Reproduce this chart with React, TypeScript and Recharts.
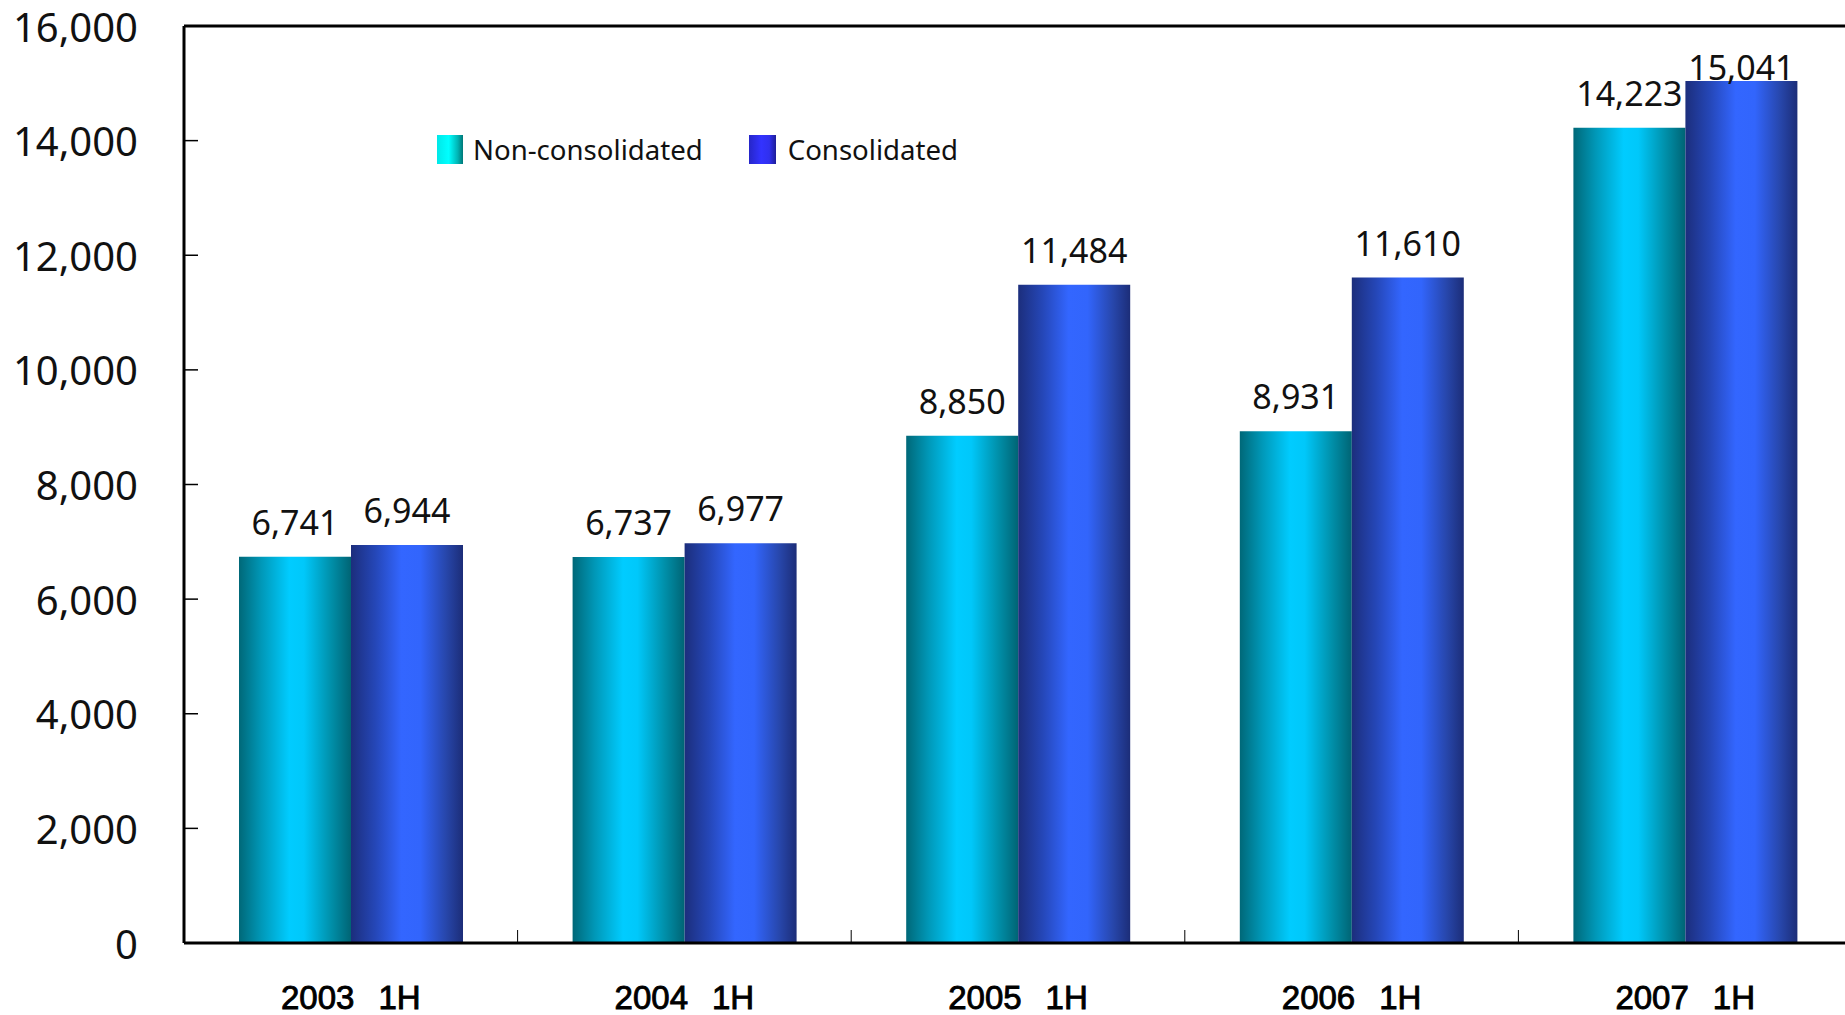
import React from 'react'
import { BarChart, Bar, XAxis, YAxis, ReferenceLine, LabelList } from 'recharts'

const categories = ['2003  1H', '2004  1H', '2005  1H', '2006  1H', '2007  1H']
const nonConsolidated = [6741, 6737, 8850, 8931, 14223]
const consolidated = [6944, 6977, 11484, 11610, 15041]
const seriesNames = ['Non-consolidated', 'Consolidated']
const yTicks = [0, 2000, 4000, 6000, 8000, 10000, 12000, 14000, 16000]

const data = categories.map((name, i) => ({
  name,
  nonConsolidated: nonConsolidated[i],
  consolidated: consolidated[i],
}))

const CHART_W = 1870
const CHART_H = 1015
const Y_AXIS_W = 184
const X_AXIS_H = 72
const MARGIN = { top: 26, right: 18, bottom: 0, left: 0 }
const PLOT_W = CHART_W - MARGIN.right - MARGIN.left - Y_AXIS_W

const fmt = (v: number) => v.toLocaleString('en-US')

function YTick(props: any) {
  const { x, y, payload } = props
  const axisX = x + 46
  return (
    <g>
      <line x1={axisX} x2={axisX + 14} y1={y} y2={y} stroke="#000" strokeWidth={1.5} />
      <text x={x} y={y} textAnchor="end" dominantBaseline="central" fontFamily="'Noto Sans', sans-serif" fontSize={40} fill="#111">
        {fmt(payload.value)}
      </text>
    </g>
  )
}

function XTick(props: any) {
  const { x, y, payload, index } = props
  const band = (props.width || PLOT_W) / categories.length
  const axisY = y - 56
  const bx = x + band / 2
  const [year, half] = String(payload.value).split(/\s+/)
  return (
    <g>
      {index < categories.length - 1 && (
        <line x1={bx} x2={bx} y1={axisY} y2={axisY - 13} stroke="#000" strokeWidth={1} />
      )}
      <text x={x} y={y - 2} textAnchor="middle" dominantBaseline="central" fontFamily="'Liberation Sans', sans-serif" fontSize={33} fill="#000" stroke="#000" strokeWidth={0.9}>
        <tspan>{year}</tspan>
        <tspan dx={24}>{half}</tspan>
      </text>
    </g>
  )
}

function ValueLabel(props: any) {
  const { x, y, width, value } = props
  const cy = Math.max(y - 35, 67)
  return (
    <text x={x + width / 2} y={cy} textAnchor="middle" dominantBaseline="central" fontFamily="'Noto Sans', sans-serif" fontSize={34} fill="#111">
      {fmt(value)}
    </text>
  )
}

export default function App() {
  return (
    <div style={{ position: 'fixed', left: 0, top: 0, width: 1845, height: 1015, overflow: 'hidden', background: '#fff' }}>
      <BarChart width={CHART_W} height={CHART_H} data={data} margin={MARGIN} barGap={0} barSize={112}>
        <defs>
          <linearGradient id="gradNC" x1="0" y1="0" x2="1" y2="0">
            <stop offset="0%" stopColor="#006878" />
            <stop offset="20%" stopColor="#0098b8" />
            <stop offset="45%" stopColor="#00ccff" />
            <stop offset="58%" stopColor="#00c8fa" />
            <stop offset="82%" stopColor="#0090aa" />
            <stop offset="100%" stopColor="#006474" />
          </linearGradient>
          <linearGradient id="gradC" x1="0" y1="0" x2="1" y2="0">
            <stop offset="0%" stopColor="#1c2e7c" />
            <stop offset="22%" stopColor="#2547b8" />
            <stop offset="45%" stopColor="#3366ff" />
            <stop offset="62%" stopColor="#3265fc" />
            <stop offset="85%" stopColor="#2746aa" />
            <stop offset="100%" stopColor="#1c2d78" />
          </linearGradient>
        </defs>
        <XAxis
          dataKey="name"
          height={X_AXIS_H}
          tickSize={0}
          tickMargin={56}
          interval={0}
          axisLine={{ stroke: '#000', strokeWidth: 3 }}
          tick={<XTick />}
        />
        <YAxis
          width={Y_AXIS_W}
          domain={[0, 16000]}
          ticks={yTicks}
          interval={0}
          tickSize={0}
          tickMargin={46}
          axisLine={{ stroke: '#000', strokeWidth: 3 }}
          tick={<YTick />}
        />
        <ReferenceLine y={16000} stroke="#000" strokeWidth={3} ifOverflow="visible" />
        <Bar dataKey="nonConsolidated" name={seriesNames[0]} fill="url(#gradNC)" isAnimationActive={false}>
          <LabelList dataKey="nonConsolidated" content={<ValueLabel />} />
        </Bar>
        <Bar dataKey="consolidated" name={seriesNames[1]} fill="url(#gradC)" isAnimationActive={false}>
          <LabelList dataKey="consolidated" content={<ValueLabel />} />
        </Bar>
      </BarChart>
      <div style={{ position: 'absolute', left: 437, top: 130, display: 'flex', alignItems: 'center', fontFamily: "'Noto Sans', sans-serif", fontSize: 27.6, color: '#111' }}>
        <div style={{ width: 26, height: 29, background: 'linear-gradient(to right, #00e8e8, #00ffff 45%, #00b4b4 80%, #007878)' }} />
        <span style={{ marginLeft: 10, marginRight: 46 }}>{seriesNames[0]}</span>
        <div style={{ width: 27, height: 29, background: 'linear-gradient(to right, #2626c8, #3333ff 45%, #3030ee 75%, #1e1e98)' }} />
        <span style={{ marginLeft: 12 }}>{seriesNames[1]}</span>
      </div>
    </div>
  )
}
